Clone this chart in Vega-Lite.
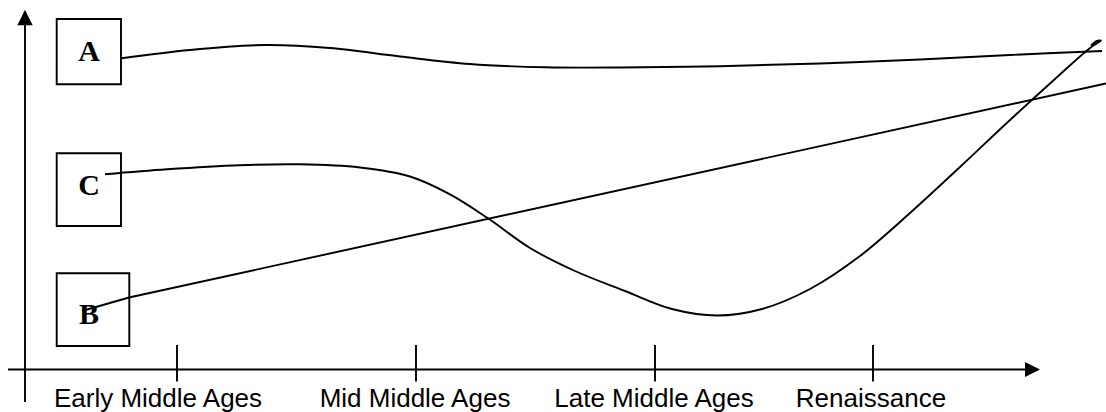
{
  "$schema": "https://vega.github.io/schema/vega-lite/v6.json",
  "width": 1106,
  "height": 412,
  "padding": 0,
  "autosize": {"type": "none"},
  "background": "white",
  "config": {"view": {"stroke": null}},
  "datasets": {
    "rules": [
      {"part": "y-axis", "x": 25, "y": 24, "x2": 25, "y2": 402},
      {"part": "x-axis", "x": 8, "y": 369.5, "x2": 1026, "y2": 369.5},
      {"part": "tick Early", "x": 177, "y": 345, "x2": 177, "y2": 381.5},
      {"part": "tick Mid", "x": 416, "y": 345, "x2": 416, "y2": 381.5},
      {"part": "tick Late", "x": 655, "y": 345, "x2": 655, "y2": 381.5},
      {"part": "tick Renaissance", "x": 873, "y": 345, "x2": 873, "y2": 381.5}
    ],
    "arrowUp": [{"x": 25, "y": 17.5}],
    "arrowRight": [{"x": 1032.5, "y": 369.5}],
    "boxes": [
      {"label": "A", "x": 56.7, "x2": 121, "y": 19, "y2": 84.3},
      {"label": "C", "x": 56.7, "x2": 121, "y": 153.3, "y2": 226},
      {"label": "B", "x": 56.7, "x2": 129.3, "y": 273.3, "y2": 346}
    ],
    "letters": [
      {"label": "A", "x": 89, "y": 61},
      {"label": "C", "x": 89, "y": 195},
      {"label": "B", "x": 89, "y": 324}
    ],
    "curves": [
      {"series": "A", "i": 1, "x": 121.7, "y": 58.3},
      {"series": "A", "i": 2, "x": 190, "y": 50},
      {"series": "A", "i": 3, "x": 265, "y": 45},
      {"series": "A", "i": 4, "x": 330, "y": 48},
      {"series": "A", "i": 5, "x": 400, "y": 56.5},
      {"series": "A", "i": 6, "x": 470, "y": 64},
      {"series": "A", "i": 7, "x": 545, "y": 67.3},
      {"series": "A", "i": 8, "x": 620, "y": 67.5},
      {"series": "A", "i": 9, "x": 720, "y": 66.2},
      {"series": "A", "i": 10, "x": 820, "y": 63.5},
      {"series": "A", "i": 11, "x": 920, "y": 59.5},
      {"series": "A", "i": 12, "x": 1010, "y": 55},
      {"series": "A", "i": 13, "x": 1102, "y": 51},
      {"series": "C", "i": 1, "x": 105, "y": 174.3},
      {"series": "C", "i": 2, "x": 167, "y": 169.3},
      {"series": "C", "i": 3, "x": 240, "y": 165.2},
      {"series": "C", "i": 4, "x": 300, "y": 164.3},
      {"series": "C", "i": 5, "x": 360, "y": 167.5},
      {"series": "C", "i": 6, "x": 410, "y": 176.5},
      {"series": "C", "i": 7, "x": 450, "y": 194.3},
      {"series": "C", "i": 8, "x": 488, "y": 218.3},
      {"series": "C", "i": 9, "x": 530, "y": 248},
      {"series": "C", "i": 10, "x": 575, "y": 271},
      {"series": "C", "i": 11, "x": 625, "y": 291},
      {"series": "C", "i": 12, "x": 672, "y": 309},
      {"series": "C", "i": 13, "x": 717, "y": 315.5},
      {"series": "C", "i": 14, "x": 762, "y": 309},
      {"series": "C", "i": 15, "x": 810, "y": 289},
      {"series": "C", "i": 16, "x": 860, "y": 256},
      {"series": "C", "i": 17, "x": 910, "y": 213},
      {"series": "C", "i": 18, "x": 960, "y": 167},
      {"series": "C", "i": 19, "x": 1010, "y": 120},
      {"series": "C", "i": 20, "x": 1055, "y": 79},
      {"series": "C", "i": 21, "x": 1090, "y": 48},
      {"series": "C", "i": 22, "x": 1101, "y": 40.5},
      {"series": "C", "i": 23, "x": 1097, "y": 41},
      {"series": "C", "i": 24, "x": 1091, "y": 45.5}
    ],
    "straight": [
      {"series": "B", "i": 1, "x": 82, "y": 311},
      {"series": "B", "i": 2, "x": 129, "y": 297.5},
      {"series": "B", "i": 3, "x": 1106, "y": 83.5}
    ],
    "periods": [
      {"period": "Early Middle Ages", "x": 158, "y": 406.5},
      {"period": "Mid Middle Ages", "x": 415, "y": 406.5},
      {"period": "Late Middle Ages", "x": 654, "y": 406.5},
      {"period": "Renaissance", "x": 871, "y": 406.5}
    ]
  },
  "layer": [
    {
      "data": {"name": "rules"},
      "mark": {"type": "rule", "color": "black", "strokeWidth": 1.9},
      "encoding": {
        "x": {"field": "x", "type": "quantitative", "scale": {"domain": [0, 1106], "nice": false, "zero": false}, "axis": null},
        "x2": {"field": "x2"},
        "y": {"field": "y", "type": "quantitative", "scale": {"domain": [0, 412], "nice": false, "zero": false, "reverse": true}, "axis": null},
        "y2": {"field": "y2"}
      }
    },
    {
      "data": {"name": "arrowUp"},
      "mark": {"type": "point", "shape": "M0,-1L1,1L-1,1Z", "size": 235, "filled": true, "color": "black", "opacity": 1, "strokeWidth": 0},
      "encoding": {
        "x": {"field": "x", "type": "quantitative", "scale": {"domain": [0, 1106], "nice": false, "zero": false}, "axis": null},
        "y": {"field": "y", "type": "quantitative", "scale": {"domain": [0, 412], "nice": false, "zero": false, "reverse": true}, "axis": null}
      }
    },
    {
      "data": {"name": "arrowRight"},
      "mark": {"type": "point", "shape": "M1,0L-1,-1L-1,1Z", "size": 225, "filled": true, "color": "black", "opacity": 1, "strokeWidth": 0},
      "encoding": {
        "x": {"field": "x", "type": "quantitative", "scale": {"domain": [0, 1106], "nice": false, "zero": false}, "axis": null},
        "y": {"field": "y", "type": "quantitative", "scale": {"domain": [0, 412], "nice": false, "zero": false, "reverse": true}, "axis": null}
      }
    },
    {
      "data": {"name": "boxes"},
      "mark": {"type": "rect", "fillOpacity": 0, "fill": "white", "stroke": "black", "strokeWidth": 1.9},
      "encoding": {
        "x": {"field": "x", "type": "quantitative", "scale": {"domain": [0, 1106], "nice": false, "zero": false}, "axis": null},
        "x2": {"field": "x2"},
        "y": {"field": "y", "type": "quantitative", "scale": {"domain": [0, 412], "nice": false, "zero": false, "reverse": true}, "axis": null},
        "y2": {"field": "y2"}
      }
    },
    {
      "data": {"name": "curves"},
      "mark": {"type": "line", "interpolate": "catmull-rom", "color": "black", "strokeWidth": 1.9},
      "encoding": {
        "x": {"field": "x", "type": "quantitative", "scale": {"domain": [0, 1106], "nice": false, "zero": false}, "axis": null},
        "y": {"field": "y", "type": "quantitative", "scale": {"domain": [0, 412], "nice": false, "zero": false, "reverse": true}, "axis": null},
        "detail": {"field": "series"},
        "order": {"field": "i", "type": "quantitative"}
      }
    },
    {
      "data": {"name": "straight"},
      "mark": {"type": "line", "interpolate": "linear", "color": "black", "strokeWidth": 1.9},
      "encoding": {
        "x": {"field": "x", "type": "quantitative", "scale": {"domain": [0, 1106], "nice": false, "zero": false}, "axis": null},
        "y": {"field": "y", "type": "quantitative", "scale": {"domain": [0, 412], "nice": false, "zero": false, "reverse": true}, "axis": null},
        "detail": {"field": "series"},
        "order": {"field": "i", "type": "quantitative"}
      }
    },
    {
      "data": {"name": "letters"},
      "mark": {"type": "text", "font": "Liberation Serif", "fontWeight": "bold", "fontSize": 30, "align": "center", "baseline": "alphabetic", "color": "black"},
      "encoding": {
        "x": {"field": "x", "type": "quantitative", "scale": {"domain": [0, 1106], "nice": false, "zero": false}, "axis": null},
        "y": {"field": "y", "type": "quantitative", "scale": {"domain": [0, 412], "nice": false, "zero": false, "reverse": true}, "axis": null},
        "text": {"field": "label"}
      }
    },
    {
      "data": {"name": "periods"},
      "mark": {"type": "text", "font": "Liberation Sans", "fontSize": 26, "align": "center", "baseline": "alphabetic", "color": "black"},
      "encoding": {
        "x": {"field": "x", "type": "quantitative", "scale": {"domain": [0, 1106], "nice": false, "zero": false}, "axis": null},
        "y": {"field": "y", "type": "quantitative", "scale": {"domain": [0, 412], "nice": false, "zero": false, "reverse": true}, "axis": null},
        "text": {"field": "period"}
      }
    }
  ]
}
